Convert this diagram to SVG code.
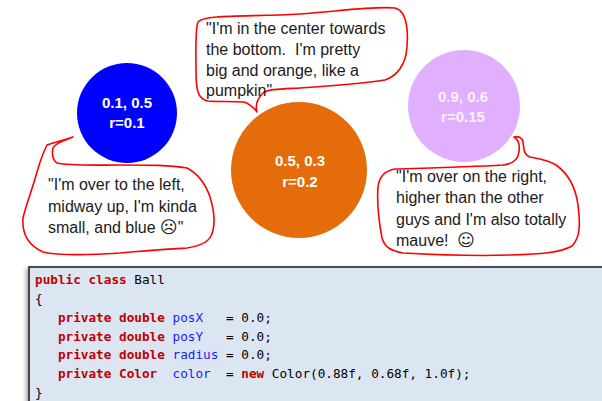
<svg xmlns="http://www.w3.org/2000/svg" width="602" height="401" viewBox="0 0 602 401">
<style>
.lbl{font-family:"Liberation Sans","DejaVu Sans",sans-serif;font-weight:bold;font-size:15px;fill:#fff;text-anchor:middle}
.say{font-family:"Liberation Sans","DejaVu Sans",sans-serif;font-size:16px;fill:#1a1a1a}
.emo{font-family:"DejaVu Sans",sans-serif;font-size:17px}
.bub{fill:none;stroke:#ff0000;stroke-width:1.6;stroke-linejoin:round}
.code{font-family:"DejaVu Sans Mono","Liberation Mono",monospace;font-size:12.7px;fill:#000}
.kw{fill:#c00000;font-weight:bold}
.id{fill:#1a1aff}
</style>
<defs>
<filter id="sh" x="-5%" y="-5%" width="110%" height="110%">
<feGaussianBlur stdDeviation="2"/>
</filter>
</defs>
<rect width="602" height="401" fill="#fff"/>
<g id="node-blue">
<circle cx="127" cy="113" r="50" fill="#0000ff"/>
<text class="lbl" x="127" y="108">0.1, 0.5</text>
<text class="lbl" x="127" y="128">r=0.1</text>
</g>
<g id="node-orange">
<circle cx="299" cy="170" r="68" fill="#e46c0a"/>
<text class="lbl" x="300" y="166">0.5, 0.3</text>
<text class="lbl" x="300" y="187">r=0.2</text>
</g>
<g id="node-mauve">
<circle cx="464" cy="106" r="56" fill="#e0b0ff"/>
<text class="lbl" x="463" y="102" fill-opacity="0.85">0.9, 0.6</text>
<text class="lbl" x="463" y="122" fill-opacity="0.85">r=0.15</text>
</g>
<g id="callout-top">
<path class="bub" d="M198,22 C205,14 250,17 300,14 C340,11 375,6 395,8 C408,11 409,35 406,55 C402,70 395,76 385,80 C360,84 330,86 300,88 C280,89 268,89 263,93 C258,98 255,105 257,112 C254,108 250,104 244,102 C230,101 218,102 208,101 C197,99 196,88 196,70 C196,50 195,30 198,22 Z"/>
<text class="say" x="206" y="34">"I'm in the center towards</text>
<text class="say" x="206" y="55" xml:space="preserve">the bottom.  I'm pretty</text>
<text class="say" x="206" y="76">big and orange, like a</text>
<text class="say" x="206" y="96">pumpkin"</text>
</g>
<g id="callout-left">
<path class="bub" d="M73,137 C65,140 55,142 47,145 C42,155 39,165 37,172 C32,190 26,205 23,218 C22,232 27,245 43,252 C60,256 90,255 120,253 C150,250 170,249 187,248 C200,246 208,242 211,236 C216,225 214,210 210,197 C206,185 200,175 187,168 C170,165 150,165 120,165 C95,165 70,166 57,163 C52,160 52,152 53,148 C55,144 60,142 73,137 Z"/>
<text class="say" x="48" y="190">"I'm over to the left,</text>
<text class="say" x="48" y="212">midway up, I'm kinda</text>
<text class="say" x="48" y="233">small, and blue <tspan class="emo">☹</tspan>"</text>
</g>
<g id="callout-right">
<path class="bub" d="M514,137 C518,136 522,137 523,142 C524,150 524,155 530,157 C540,159 548,160 556,165 C570,175 576,190 578,205 C580,222 581,237 572,246 C560,253 540,254 510,255 C480,256 440,255 403,253 C392,251 385,248 382,238 C379,222 377,200 378,187 C379,178 383,171 395,169 C430,168 470,167 503,165 C512,164 518,160 519,152 C520,145 519,140 514,137 Z"/>
<text class="say" x="396" y="182">"I'm over on the right,</text>
<text class="say" x="396" y="203">higher than the other</text>
<text class="say" x="396" y="225">guys and I'm also totally</text>
<text class="say" x="396" y="246" xml:space="preserve">mauve!  <tspan class="emo">☺</tspan></text>
</g>
<g id="connectors"/>
<g id="code-box">
<rect x="26" y="268" width="590" height="150" fill="#000" opacity="0.35" filter="url(#sh)"/>
<rect x="29" y="267" width="590" height="150" fill="#dce6f2" stroke="#262626" stroke-width="1.6"/>
<text class="code" x="35" y="284" xml:space="preserve"><tspan class="kw">public class</tspan> Ball</text>
<text class="code" x="35" y="303" xml:space="preserve">{</text>
<text class="code" x="35" y="322" xml:space="preserve">   <tspan class="kw">private double</tspan> <tspan class="id">posX</tspan>   = 0.0;</text>
<text class="code" x="35" y="341" xml:space="preserve">   <tspan class="kw">private double</tspan> <tspan class="id">posY</tspan>   = 0.0;</text>
<text class="code" x="35" y="359" xml:space="preserve">   <tspan class="kw">private double</tspan> <tspan class="id">radius</tspan> = 0.0;</text>
<text class="code" x="35" y="378" xml:space="preserve">   <tspan class="kw">private Color</tspan>  <tspan class="id">color</tspan>  = <tspan class="kw">new</tspan> Color(0.88f, 0.68f, 1.0f);</text>
<text class="code" x="35" y="397" xml:space="preserve">}</text>
</g>
</svg>
